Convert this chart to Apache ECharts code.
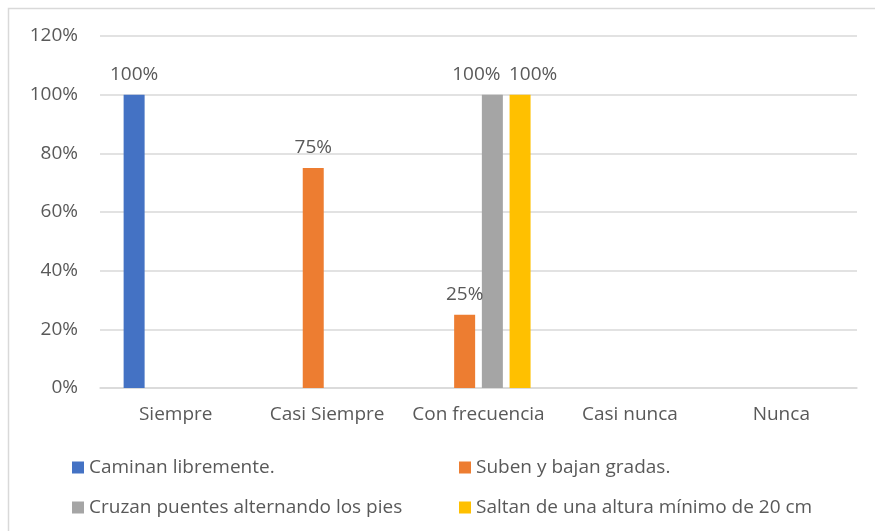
<!DOCTYPE html>
<html>
<head>
<meta charset="utf-8">
<script src="https://cdn.jsdelivr.net/npm/echarts@6/dist/echarts.min.js"></script>
<style>
  html, body { margin: 0; padding: 0; background: #fff; }
  #chart { width: 875px; height: 531px; }
</style>
</head>
<body>
<div id="chart"></div>
<script>
// categorias y valores (en %), null = sin barra
const categories = ["Siempre", "Casi Siempre", "Con frecuencia", "Casi nunca", "Nunca"];
const seriesNames = [
  "Caminan libremente.",
  "Suben y bajan gradas.",
  "Cruzan puentes alternando los pies",
  "Saltan de una altura mínimo de 20 cm"
];
const caminan = [100, null, null, null, null];
const suben = [null, 75, 25, null, null];
const cruzan = [null, null, 100, null, null];
const saltan = [null, null, 100, null, null];
const colors = ["#4472C4", "#ED7D31", "#A5A5A5", "#FFC000"];

const font = "'Open Sans', sans-serif";
const textColor = "#595959";
const fs = 19;

// etiquetas que se empujan a los lados para que no se monten (como en Excel)
function withShift(data, idx, dx) {
  return data.map((v, i) => i === idx ? { value: v, label: { offset: [dx, 0] } } : v);
}

function barSeries(name, data, color) {
  return {
    name: name,
    type: "bar",
    data: data,
    barWidth: 21,
    barGap: "32%",
    itemStyle: { color: color },
    label: {
      show: true,
      position: "top",
      distance: 11,
      formatter: p => p.value + "%",
      color: textColor,
      fontSize: fs,
      fontFamily: font
    }
  };
}

const legendText = { color: textColor, fontSize: fs, fontFamily: font };

const chart = echarts.init(document.getElementById("chart"));
chart.setOption({
  animation: false,
  color: colors,
  grid: { left: 100, right: 18, top: 36, bottom: 143 },
  graphic: [{
    type: "rect",
    shape: { x: 8.5, y: 8.5, width: 880, height: 540 },
    style: { fill: null, stroke: "#D9D9D9", lineWidth: 1.5 },
    silent: true
  }],
  legend: [
    {
      data: [seriesNames[0], seriesNames[2]],
      orient: "vertical",
      left: 67,
      top: 453,
      itemWidth: 12,
      itemHeight: 12,
      itemGap: 21,
      icon: "rect",
      textStyle: legendText
    },
    {
      data: [seriesNames[1], seriesNames[3]],
      orient: "vertical",
      left: 454,
      top: 453,
      itemWidth: 12,
      itemHeight: 12,
      itemGap: 21,
      icon: "rect",
      textStyle: legendText
    }
  ],
  xAxis: {
    type: "category",
    data: categories,
    axisLine: { lineStyle: { color: "#D9D9D9", width: 1.5 } },
    axisTick: { show: false },
    axisLabel: { interval: 0, color: textColor, fontSize: fs, fontFamily: font, margin: 17 }
  },
  yAxis: {
    type: "value",
    min: 0,
    max: 120,
    interval: 20,
    axisLine: { show: false },
    axisTick: { show: false },
    splitLine: { lineStyle: { color: "#D9D9D9", width: 1.5 } },
    axisLabel: {
      color: textColor,
      fontSize: fs,
      fontFamily: font,
      margin: 22,
      formatter: v => v + "%"
    }
  },
  series: [
    barSeries(seriesNames[0], caminan, colors[0]),
    barSeries(seriesNames[1], suben, colors[1]),
    barSeries(seriesNames[2], withShift(cruzan, 2, -16), colors[2]),
    barSeries(seriesNames[3], withShift(saltan, 2, 13), colors[3])
  ]
});
</script>
</body>
</html>
